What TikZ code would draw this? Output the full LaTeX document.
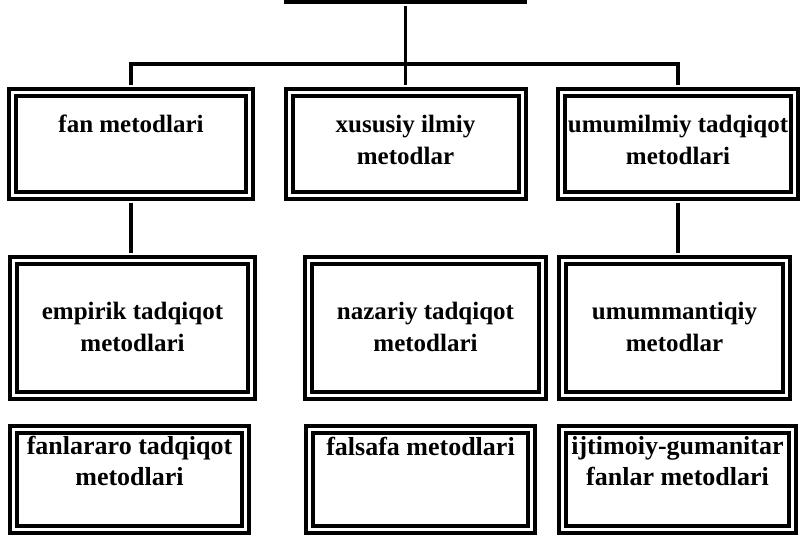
\documentclass[tikz,border=0pt]{standalone}
\usepackage{fontspec}
\setmainfont{Liberation Serif}
\tikzset{
  methodbox/.style={draw, double, double distance=2.25pt, line width=3pt, inner sep=0pt, rectangle},
  rowone/.style={methodbox, minimum height=77.25pt},
  rowtwo/.style={methodbox, minimum height=101.25pt},
  rowthree/.style={methodbox, minimum height=75pt},
  boxtext/.style={align=center, inner sep=0pt, anchor=base, font=\bfseries\fontsize{18.75}{24}\selectfont},
  boxtextlow/.style={boxtext, font=\bfseries\fontsize{19.5}{23.25}\selectfont},
  conn/.style={line width=2.6pt, shorten <=4pt, shorten >=4pt}
}
\begin{document}
\begin{tikzpicture}[x=0.75pt,y=0.75pt]
    \useasboundingbox (0,0) rectangle (802,537);
    \node[methodbox, minimum width=174pt, minimum height=45pt](top) at (405.5,568.5) {};
    \node[rowone, minimum width=177.75pt](fan) at (131,393) {};
    \node[rowone, minimum width=174.75pt](xususiy) at (405.5,393) {};
    \node[rowone, minimum width=174.75pt](umumilmiy) at (678,393) {};
    \node[rowtwo, minimum width=178.5pt](empirik) at (132.5,209) {};
    \node[rowtwo, minimum width=175.5pt](nazariy) at (425.5,209) {};
    \node[rowtwo, minimum width=168pt](umummantiqiy) at (674.5,209) {};
    \node[rowthree, minimum width=174pt](fanlararo) at (129.5,58) {};
    \node[rowthree, minimum width=166.5pt](falsafa) at (420.5,58) {};
    \node[rowthree, minimum width=172.5pt](ijtimoiy) at (677.5,58) {};
    \node[boxtext](fan-t) at (131,405) {fan metodlari};
    \node[boxtext](xususiy-t) at (405.5,373) {xususiy ilmiy\\metodlar};
    \node[boxtext](umumilmiy-t) at (678,373) {umumilmiy tadqiqot\\metodlari};
    \node[boxtext](empirik-t) at (132.5,186) {empirik tadqiqot\\metodlari};
    \node[boxtext](nazariy-t) at (425.5,186) {nazariy tadqiqot\\metodlari};
    \node[boxtext](umummantiqiy-t) at (674.5,186) {umummantiqiy\\metodlar};
    \node[boxtextlow](fanlararo-t) at (129.5,52) {fanlararo tadqiqot\\metodlari};
    \node[boxtextlow](falsafa-t) at (420.5,82) {falsafa metodlari};
    \node[boxtextlow](ijtimoiy-t) at (677.5,52) {ijtimoiy-gumanitar\\fanlar metodlari};
    \coordinate(bus) at (405.5,473);
    \draw[conn](top.south) -- (bus) -- (xususiy.north);
    \draw[conn](fan.north) |- (bus) -| (umumilmiy.north);
    \draw[conn](fan.south) -- (fan.south |- empirik.north);
    \draw[conn](umumilmiy.south) -- (umumilmiy.south |- umummantiqiy.north);
\end{tikzpicture}
\end{document}
